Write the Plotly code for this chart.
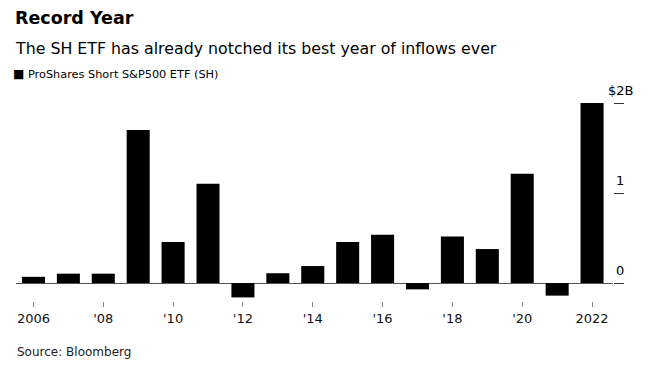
import plotly.graph_objects as go

years = list(range(2006, 2023))
inflows = [0.07, 0.105, 0.105, 1.71, 0.46, 1.11, -0.16, 0.11, 0.19, 0.46, 0.54, -0.07, 0.52, 0.38, 1.22, -0.14, 2.01]
xtick_vals = list(range(2006, 2023, 2))
xtick_text = ["2006", "'08", "'10", "'12", "'14", "'16", "'18", "'20", "2022"]
ytick_vals = [0, 1, 2]
ytick_text = ["0", "1", "$2B"]

title = "Record Year"
subtitle = "The SH ETF has already notched its best year of inflows ever"
series_name = "ProShares Short S&P500 ETF (SH)"
source = "Source: Bloomberg"

W, H = 649, 377
L, R, T, B = 16, 36, 95, 76
pw = W - L - R
ph = H - T - B
FONT = "DejaVu Sans"

fig = go.Figure(go.Bar(x=years, y=inflows, marker=dict(color="#000000", line=dict(width=0)),
                       width=0.66, name=series_name, showlegend=False))

def px_x(p):
    return (p - L) / pw

def px_y(p):
    return (H - B - p) / ph

ann = [
    dict(text="<b>" + title + "</b>", x=px_x(13), y=px_y(18), font=dict(size=17.5, color="#000")),
    dict(text=subtitle, x=px_x(13), y=px_y(48), font=dict(size=15.8, color="#000")),
    dict(text="■", x=px_x(11), y=px_y(74), font=dict(size=12, color="#000")),
    dict(text=series_name, x=px_x(26), y=px_y(74), font=dict(size=11.3, color="#000")),
    dict(text=source, x=px_x(15), y=px_y(352), font=dict(size=12, color="#222")),
]
annotations = []
for a in ann:
    a.update(xref="paper", yref="paper", xanchor="left", yanchor="middle", showarrow=False, font_family=FONT)
    annotations.append(a)
for v, t in zip(ytick_vals, ytick_text):
    annotations.append(dict(text=t, x=px_x(620), xref="paper", y=v, yref="y", yshift=13,
                            xanchor="center", yanchor="middle", showarrow=False,
                            font=dict(family=FONT, size=13, color="#000")))

fig.update_layout(
    width=W, height=H,
    margin=dict(l=L, r=R, t=T, b=B, pad=0),
    paper_bgcolor="white", plot_bgcolor="white",
    font=dict(family=FONT, size=13, color="#000"),
    annotations=annotations,
    xaxis=dict(range=[2005.5, 2022.6], tickvals=xtick_vals, ticktext=xtick_text,
               ticks="outside", ticklen=5, tickcolor="#888", tickwidth=1,
               showgrid=False, showline=False, zeroline=False,
               tickfont=dict(family=FONT, size=13, color="#111")),
    yaxis=dict(range=[-0.2, 2.1], tickvals=ytick_vals, side="right",
               ticks="outside", ticklen=10, tickcolor="#333", tickwidth=1,
               showticklabels=False, showgrid=False, showline=False,
               zeroline=True, zerolinecolor="#555", zerolinewidth=1),
)

fig.write_html("out.html", config={"displayModeBar": False},
               post_script="document.body.style.margin='0';document.body.style.overflow='hidden';")
